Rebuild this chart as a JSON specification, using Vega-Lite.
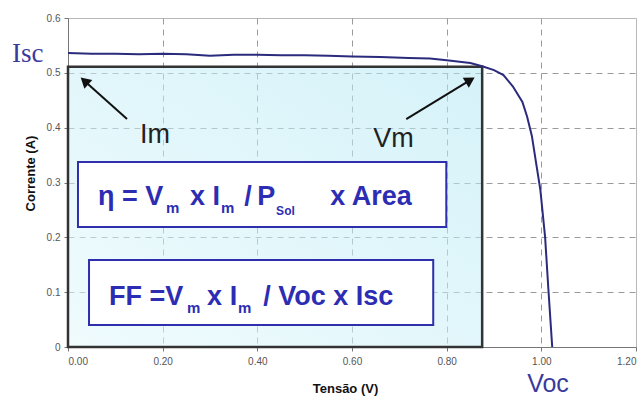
{
  "$schema": "https://vega.github.io/schema/vega-lite/v6.json",
  "width": 568,
  "height": 329,
  "autosize": {"type": "none"},
  "padding": {"left": 68, "top": 18, "right": 7, "bottom": 50},
  "background": "white",
  "config": {
    "view": {"stroke": "#b8b8b8", "strokeWidth": 1},
    "axis": {
      "labelFont": "Liberation Sans",
      "labelFontSize": 10,
      "labelColor": "#555555",
      "tickColor": "#777777",
      "tickSize": 4,
      "domainColor": "#777777",
      "gridColor": "#9a9a9a",
      "gridDash": [6, 5],
      "titleFont": "Liberation Sans",
      "titleFontWeight": "bold",
      "titleFontSize": 13,
      "titleColor": "#111111"
    }
  },
  "datasets": {
    "curve": [
      {"v": 0.0, "i": 0.536}, {"v": 0.05, "i": 0.535}, {"v": 0.1, "i": 0.535}, {"v": 0.15, "i": 0.534},
      {"v": 0.2, "i": 0.535}, {"v": 0.25, "i": 0.534}, {"v": 0.3, "i": 0.531}, {"v": 0.35, "i": 0.533},
      {"v": 0.4, "i": 0.533}, {"v": 0.45, "i": 0.532}, {"v": 0.5, "i": 0.532}, {"v": 0.55, "i": 0.531},
      {"v": 0.6, "i": 0.53}, {"v": 0.66, "i": 0.529}, {"v": 0.72, "i": 0.527}, {"v": 0.765, "i": 0.526},
      {"v": 0.8, "i": 0.523}, {"v": 0.85, "i": 0.518}, {"v": 0.875, "i": 0.512}, {"v": 0.9, "i": 0.505},
      {"v": 0.92, "i": 0.496}, {"v": 0.94, "i": 0.475}, {"v": 0.96, "i": 0.447}, {"v": 0.97, "i": 0.42},
      {"v": 0.98, "i": 0.385}, {"v": 0.99, "i": 0.33}, {"v": 0.998, "i": 0.286}, {"v": 1.008, "i": 0.2},
      {"v": 1.015, "i": 0.104}, {"v": 1.023, "i": 0.0}
    ],
    "mpp": [{"v0": 0, "v1": 0.875, "i0": 0, "i1": 0.511}],
    "boxes": [
      {"v0": 0.0211, "v1": 0.7992, "i0": 0.2188, "i1": 0.3374},
      {"v0": 0.0444, "v1": 0.7716, "i0": 0.0401, "i1": 0.1587}
    ],
    "main": [
      {"t": "η = V", "v": 0.0634, "i": 0.259},
      {"t": "x I", "v": 0.2579, "i": 0.259},
      {"t": "/", "v": 0.3721, "i": 0.259},
      {"t": "P", "v": 0.3996, "i": 0.259},
      {"t": "x Area", "v": 0.5539, "i": 0.259},
      {"t": "FF =V", "v": 0.0867, "i": 0.0766},
      {"t": "x I", "v": 0.2939, "i": 0.0766},
      {"t": "/ Voc x Isc", "v": 0.4123, "i": 0.0766}
    ],
    "subs": [
      {"t": "m", "v": 0.2072, "i": 0.2444},
      {"t": "m", "v": 0.3235, "i": 0.2444},
      {"t": "m", "v": 0.2516, "i": 0.062},
      {"t": "m", "v": 0.3594, "i": 0.062}
    ],
    "sol": [{"t": "Sol", "v": 0.4397, "i": 0.2407}],
    "pts": [
      {"t": "Im", "v": 0.1522, "i": 0.372},
      {"t": "Vm", "v": 0.6448, "i": 0.3648}
    ],
    "isc": [{"t": "Isc", "v": -0.1184, "i": 0.5198}],
    "voc": [{"t": "Voc", "v": 0.97, "i": -0.082}],
    "arrows": [
      {"a": "Im", "v0": 0.1247, "i0": 0.4157, "v1": 0.0349, "i1": 0.4851},
      {"a": "Vm", "v0": 0.7146, "i0": 0.4157, "v1": 0.8497, "i1": 0.4868}
    ]
  },
  "layer": [
    {
      "data": {"name": "mpp"},
      "mark": {
        "type": "rect",
        "fill": {"x1": 0, "y1": 1, "x2": 1, "y2": 0, "gradient": "linear", "stops": [{"offset": 0, "color": "#e3f8fc"}, {"offset": 1, "color": "#b3e8f4"}]},
        "fillOpacity": 0.55,
        "stroke": "#333333",
        "strokeWidth": 2.5,
        "strokeOpacity": 1
      },
      "encoding": {
        "x": {
          "field": "v0", "type": "quantitative",
          "title": "Tensão (V)",
          "scale": {"domain": [0, 1.2], "nice": false, "zero": false},
          "axis": {
            "values": [0, 0.2, 0.4, 0.6, 0.8, 1.0, 1.2],
            "format": ".2f",
            "labelPadding": 5,
            "gridOpacity": {"condition": {"test": "datum.value < 0.01 || datum.value > 1.19", "value": 0}, "value": 1},
            "titleFontSize": 13,
            "titleX": 277,
            "titleY": 45,
            "titleBaseline": "alphabetic"
          }
        },
        "x2": {"field": "v1"},
        "y": {
          "field": "i0", "type": "quantitative",
          "title": "Corrente (A)",
          "scale": {"domain": [0, 0.6], "nice": false, "zero": false},
          "axis": {
            "values": [0, 0.1, 0.2, 0.3, 0.4, 0.5, 0.6],
            "labelExpr": "datum.value === 0 ? '0' : format(datum.value, '.1f')",
            "labelPadding": 4,
            "gridOpacity": {"condition": {"test": "datum.value < 0.01 || datum.value > 0.59", "value": 0}, "value": 1},
            "titleFontSize": 13,
            "titleX": -34,
            "titleY": 155,
            "titleAngle": -90,
            "titleBaseline": "alphabetic",
            "titleAlign": "center"
          }
        },
        "y2": {"field": "i1"}
      }
    },
    {
      "data": {"name": "curve"},
      "mark": {"type": "line", "color": "#2b2b7d", "strokeWidth": 2},
      "encoding": {
        "x": {"field": "v", "type": "quantitative", "title": "Tensão (V)"},
        "y": {"field": "i", "type": "quantitative", "title": "Corrente (A)"}
      }
    },
    {
      "data": {"name": "boxes"},
      "mark": {"type": "rect", "fill": "white", "stroke": "#2f2fae", "strokeWidth": 2},
      "encoding": {
        "x": {"field": "v0", "type": "quantitative", "title": "Tensão (V)"},
        "x2": {"field": "v1"},
        "y": {"field": "i0", "type": "quantitative", "title": "Corrente (A)"},
        "y2": {"field": "i1"}
      }
    },
    {
      "data": {"name": "main"},
      "mark": {"type": "text", "align": "left", "baseline": "alphabetic", "font": "Liberation Sans", "fontWeight": "bold", "fontSize": 27, "color": "#2d2db4"},
      "encoding": {
        "x": {"field": "v", "type": "quantitative", "title": "Tensão (V)"},
        "y": {"field": "i", "type": "quantitative", "title": "Corrente (A)"},
        "text": {"field": "t"}
      }
    },
    {
      "data": {"name": "subs"},
      "mark": {"type": "text", "align": "left", "baseline": "alphabetic", "font": "Liberation Sans", "fontWeight": "bold", "fontSize": 15, "color": "#2d2db4"},
      "encoding": {
        "x": {"field": "v", "type": "quantitative", "title": "Tensão (V)"},
        "y": {"field": "i", "type": "quantitative", "title": "Corrente (A)"},
        "text": {"field": "t"}
      }
    },
    {
      "data": {"name": "sol"},
      "mark": {"type": "text", "align": "left", "baseline": "alphabetic", "font": "Liberation Sans", "fontWeight": "bold", "fontSize": 12, "color": "#2d2db4"},
      "encoding": {
        "x": {"field": "v", "type": "quantitative", "title": "Tensão (V)"},
        "y": {"field": "i", "type": "quantitative", "title": "Corrente (A)"},
        "text": {"field": "t"}
      }
    },
    {
      "data": {"name": "pts"},
      "mark": {"type": "text", "align": "left", "baseline": "alphabetic", "font": "Liberation Sans", "fontSize": 27, "color": "#222222"},
      "encoding": {
        "x": {"field": "v", "type": "quantitative", "title": "Tensão (V)"},
        "y": {"field": "i", "type": "quantitative", "title": "Corrente (A)"},
        "text": {"field": "t"}
      }
    },
    {
      "data": {"name": "isc"},
      "mark": {"type": "text", "align": "left", "baseline": "alphabetic", "font": "Liberation Serif", "fontSize": 27, "color": "#3a3a9c"},
      "encoding": {
        "x": {"field": "v", "type": "quantitative", "title": "Tensão (V)"},
        "y": {"field": "i", "type": "quantitative", "title": "Corrente (A)"},
        "text": {"field": "t"}
      }
    },
    {
      "data": {"name": "voc"},
      "mark": {"type": "text", "align": "left", "baseline": "alphabetic", "font": "Liberation Sans", "fontSize": 25, "color": "#3a3a9c"},
      "encoding": {
        "x": {"field": "v", "type": "quantitative", "title": "Tensão (V)"},
        "y": {"field": "i", "type": "quantitative", "title": "Corrente (A)"},
        "text": {"field": "t"}
      }
    },
    {
      "data": {"name": "arrows"},
      "mark": {"type": "rule", "color": "#111111", "strokeWidth": 2},
      "encoding": {
        "x": {"field": "v0", "type": "quantitative", "title": "Tensão (V)"},
        "y": {"field": "i0", "type": "quantitative", "title": "Corrente (A)"},
        "x2": {"field": "v1"},
        "y2": {"field": "i1"}
      }
    },
    {
      "data": {"name": "arrows"},
      "transform": [{"filter": "datum.a === 'Im'"}],
      "mark": {"type": "point", "shape": "triangle-up", "filled": true, "color": "#111111", "opacity": 1, "size": 140, "angle": 312},
      "encoding": {
        "x": {"field": "v1", "type": "quantitative", "title": "Tensão (V)"},
        "y": {"field": "i1", "type": "quantitative", "title": "Corrente (A)"}
      }
    },
    {
      "data": {"name": "arrows"},
      "transform": [{"filter": "datum.a === 'Vm'"}],
      "mark": {"type": "point", "shape": "triangle-up", "filled": true, "color": "#111111", "opacity": 1, "size": 140, "angle": 59},
      "encoding": {
        "x": {"field": "v1", "type": "quantitative", "title": "Tensão (V)"},
        "y": {"field": "i1", "type": "quantitative", "title": "Corrente (A)"}
      }
    }
  ]
}
